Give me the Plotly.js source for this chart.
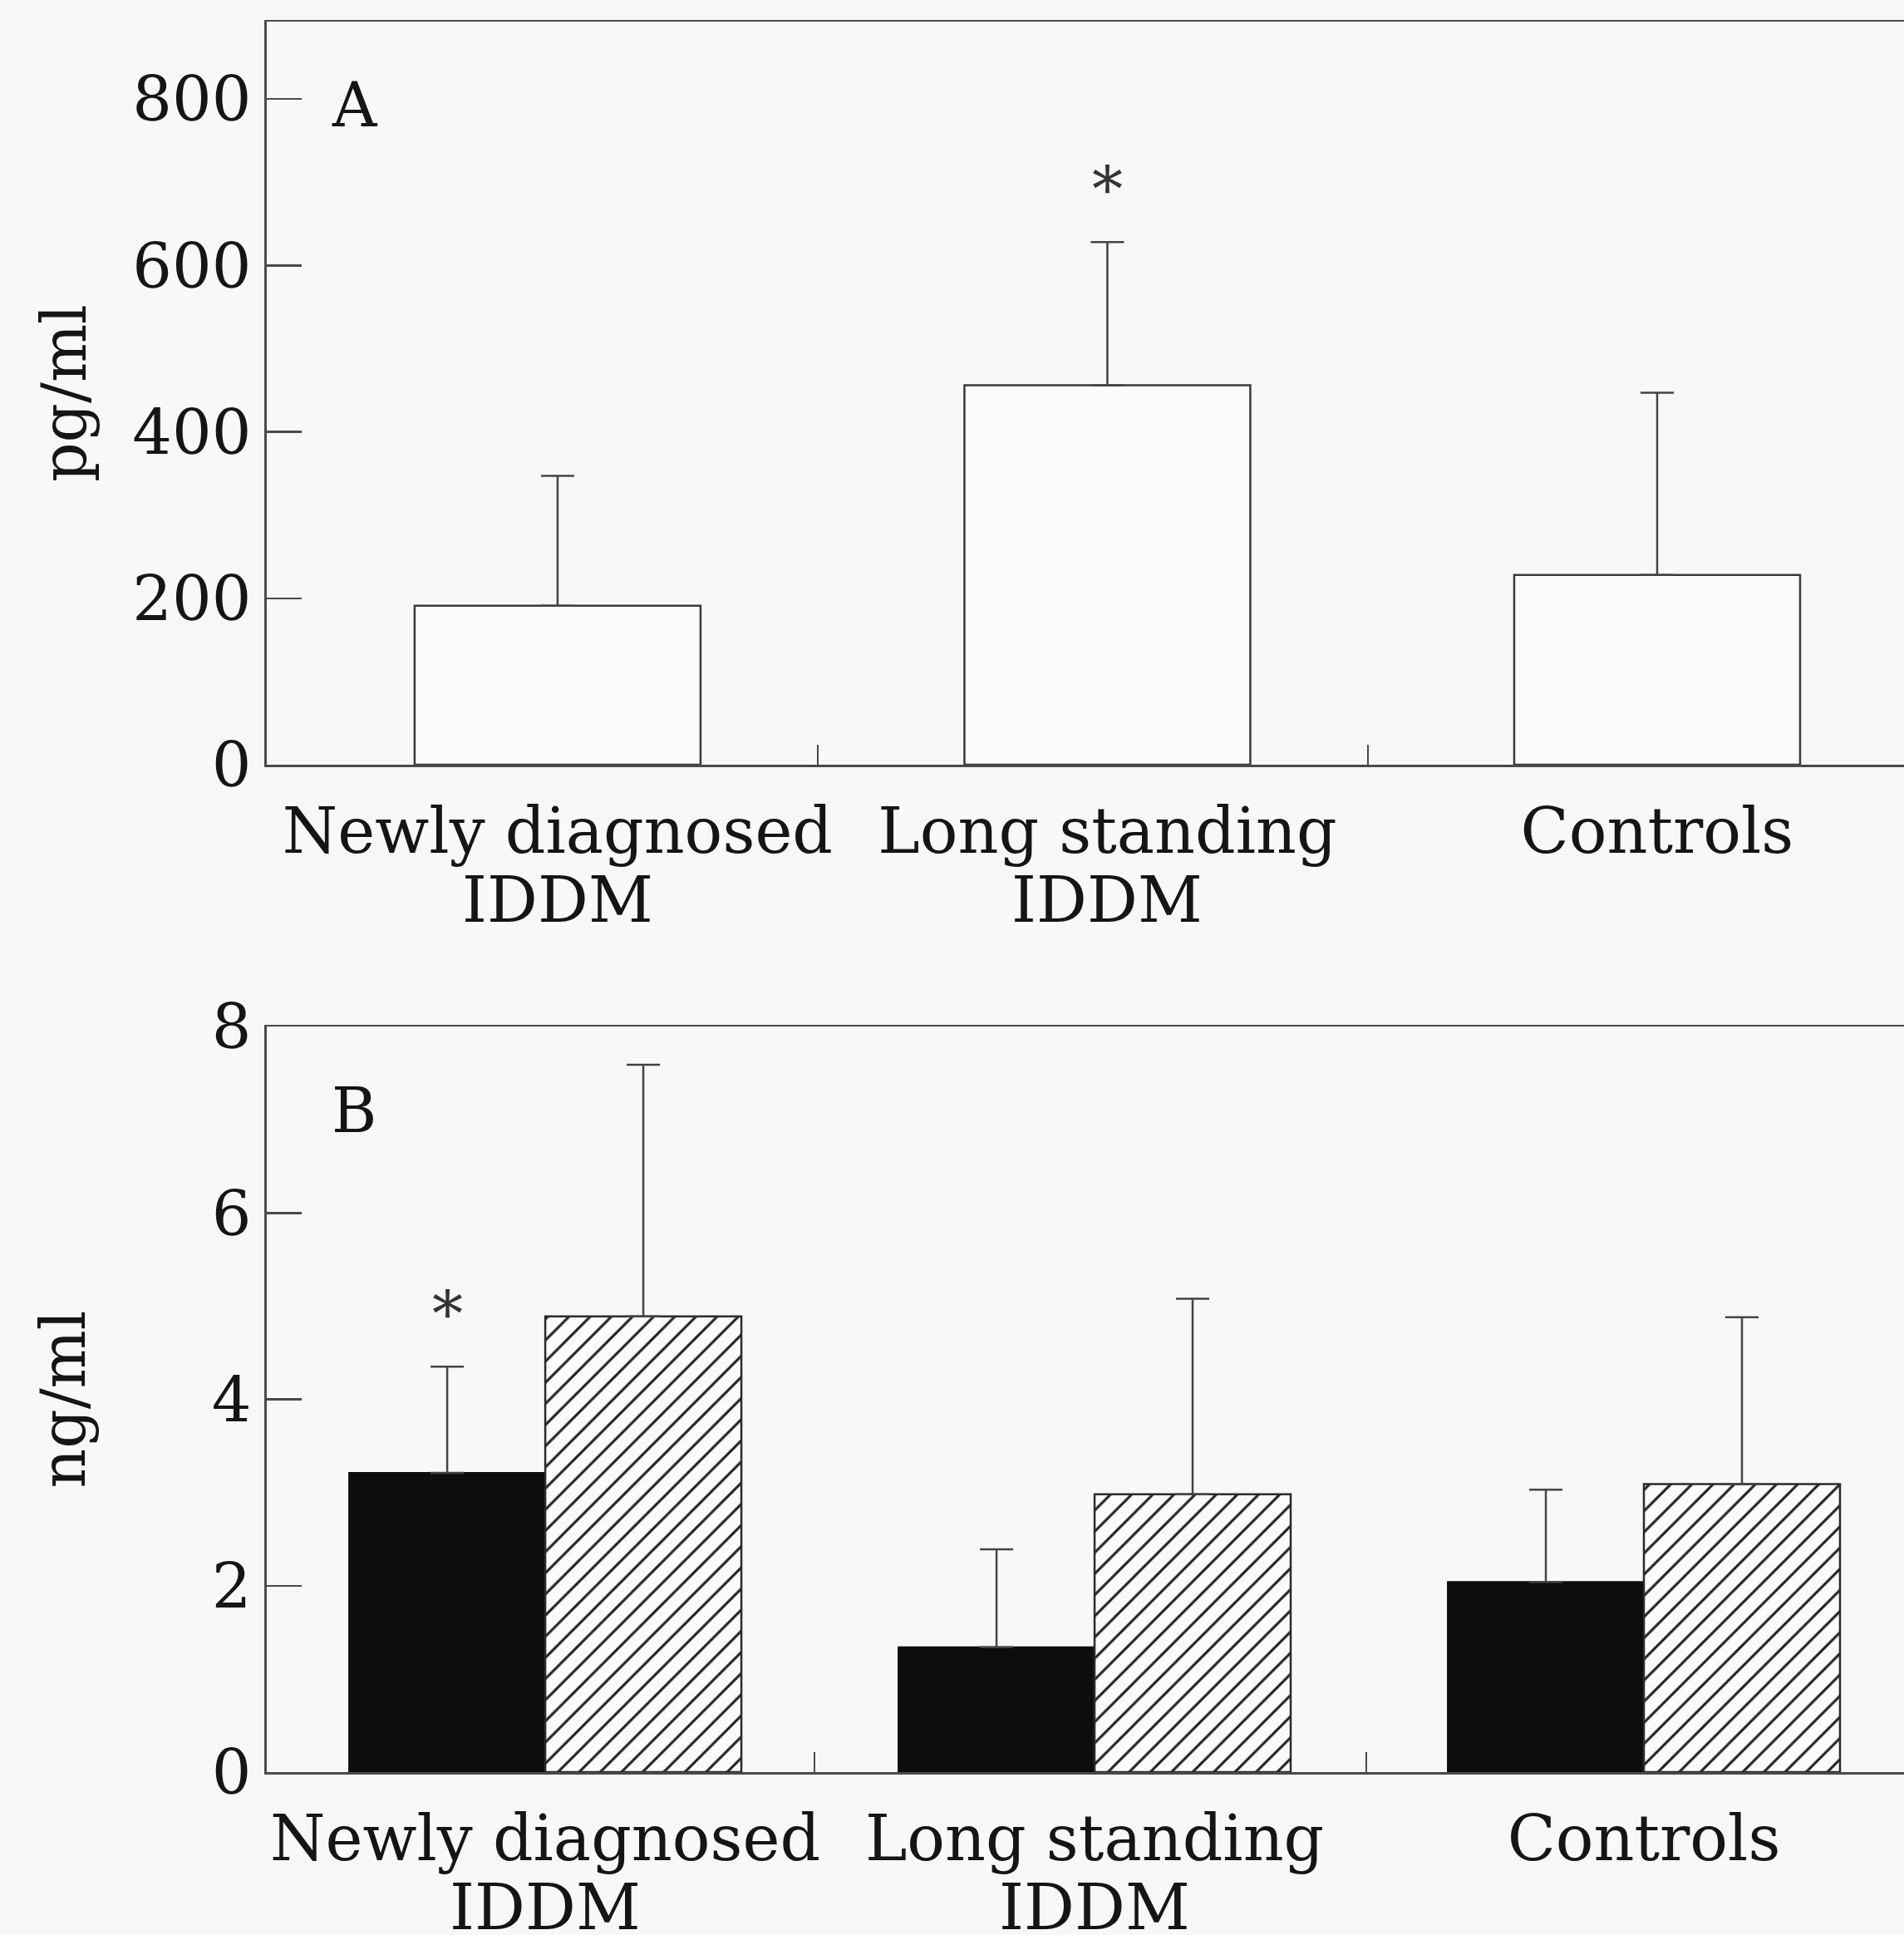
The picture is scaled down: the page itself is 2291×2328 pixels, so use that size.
<!DOCTYPE html>
<html>
<head>
<meta charset="utf-8">
<script src="https://cdn.plot.ly/plotly-3.0.1.min.js"></script>
<style>html,body{margin:0;padding:0;background:#f8f8f8;}</style>
</head>
<body>
<div id="chart" style="width:2291px;height:2328px;"></div>
<script>
// ---- data ----
const categoryLine1 = ['Newly diagnosed', 'Long standing', 'Controls'];
const categoryLine2 = ['IDDM', 'IDDM', ''];
// Panel A (pg/ml): mean and upper SD
const pgMean = [191, 456, 228];
const pgSD = [156, 172, 219];
const pgSignificant = [false, true, false];
// Panel B (ng/ml): black bars and hatched bars
const ngBlackMean = [3.21, 1.34, 2.04];
const ngBlackSD = [1.14, 1.05, 0.99];
const ngBlackSignificant = [true, false, false];
const ngHatchMean = [4.89, 2.98, 3.09];
const ngHatchSD = [2.70, 2.10, 1.79];
const yTicksA = [0, 200, 400, 600, 800];
const yTicksB = [0, 2, 4, 6, 8];

// ---- styles ----
const FONT = 'DejaVu Serif, Liberation Serif, serif';
const BG = '#f8f8f8';
const LINE = '#4a4a4a';
const TXT = '#151515';
const idx = categoryLine1.map((_, i) => i);
const zeros = n => new Array(n).fill(0);
const wA = 0.52, wB = 0.357;

const errStyle = {type: 'data', symmetric: false, color: '#444', thickness: 2.5, width: 20};

const traces = [
  {
    type: 'bar', x: idx, y: pgMean, xaxis: 'x', yaxis: 'y',
    width: wA, offset: -wA / 2,
    marker: {color: '#fbfbfb', line: {color: '#3a3a3a', width: 2.5}},
    error_y: Object.assign({}, errStyle, {array: pgSD, arrayminus: zeros(pgSD.length)}),
    hoverinfo: 'skip'
  },
  {
    type: 'bar', x: idx, y: ngBlackMean, xaxis: 'x2', yaxis: 'y2',
    width: wB, offset: -wB,
    marker: {color: '#0d0d0d', line: {color: '#0d0d0d', width: 2}},
    error_y: Object.assign({}, errStyle, {array: ngBlackSD, arrayminus: zeros(ngBlackSD.length)}),
    hoverinfo: 'skip'
  },
  {
    type: 'bar', x: idx, y: ngHatchMean, xaxis: 'x2', yaxis: 'y2',
    width: wB, offset: 0,
    marker: {
      color: BG,
      pattern: {shape: '/', fgcolor: '#222', bgcolor: '#fbfbfb', size: 18, solidity: 0.17},
      line: {color: '#2a2a2a', width: 2.5}
    },
    error_y: Object.assign({}, errStyle, {array: ngHatchSD, arrayminus: zeros(ngHatchSD.length)}),
    hoverinfo: 'skip'
  }
];

const xCommon = {
  domain: [0.1401, 1],
  tickmode: 'array', tickvals: idx, ticktext: categoryLine1,
  ticks: '', showline: true, linecolor: LINE, linewidth: 2.5, mirror: true,
  showgrid: false, zeroline: false, automargin: false,
  tickfont: {family: FONT, size: 76, color: TXT},
  ticklabelstandoff: 12
};
const yCommon = {
  tickmode: 'array', ticks: 'inside', ticklen: 42, tickwidth: 2.5, tickcolor: LINE,
  showline: true, linecolor: LINE, linewidth: 2.5, mirror: false,
  showgrid: false, zeroline: false, automargin: false,
  tickfont: {family: FONT, size: 75, color: TXT},
  ticklabelstandoff: 1
};
const minorX = b => ({tickmode: 'array', tickvals: b, ticks: 'inside', ticklen: 24, tickwidth: 2.5, tickcolor: LINE, showgrid: false});

const annotations = [];
annotations.push({xref: 'x domain', yref: 'y domain', x: 0.0386, y: 0.8876, xanchor: 'left', yanchor: 'middle',
  text: 'A', showarrow: false, font: {family: FONT, size: 74, color: TXT}});
annotations.push({xref: 'x2 domain', yref: 'y2 domain', x: 0.0386, y: 0.8874, xanchor: 'left', yanchor: 'middle',
  text: 'B', showarrow: false, font: {family: FONT, size: 74, color: TXT}});
// second line of the category labels
[['x', 'y domain'], ['x2', 'y2 domain']].forEach(([xr, yr]) => {
  categoryLine2.forEach((t, i) => {
    if (t) annotations.push({xref: xr, yref: yr, x: idx[i], y: 0, yanchor: 'middle', yshift: -162,
      text: t, showarrow: false, font: {family: FONT, size: 76, color: TXT}});
  });
});
pgSignificant.forEach((s, i) => {
  if (s) annotations.push({xref: 'x', yref: 'y', x: idx[i], y: pgMean[i] + pgSD[i], yanchor: 'bottom', yshift: 18,
    text: '*', showarrow: false, font: {family: FONT, size: 74, color: '#333'}});
});
ngBlackSignificant.forEach((s, i) => {
  if (s) annotations.push({xref: 'x2', yref: 'y2', x: idx[i] - wB / 2, y: ngBlackMean[i] + ngBlackSD[i], yanchor: 'bottom', yshift: 18,
    text: '*', showarrow: false, font: {family: FONT, size: 74, color: '#333'}});
});

const layout = {
  width: 2291, height: 2328,
  margin: {l: 0, r: 0, t: 0, b: 0},
  paper_bgcolor: BG, plot_bgcolor: BG,
  showlegend: false, barmode: 'overlay',
  xaxis: Object.assign({}, xCommon, {anchor: 'y', range: [-0.529, 2.449], minor: minorX([0.473, 1.474])}),
  yaxis: Object.assign({}, yCommon, {anchor: 'x', domain: [0.60481, 0.98883], range: [0, 893], tickvals: yTicksA,
    title: {text: 'pg/ml', font: {family: FONT, size: 74, color: TXT}, standoff: 32}}),
  xaxis2: Object.assign({}, xCommon, {anchor: 'y2', range: [-0.507, 2.4735], minor: minorX([0.49, 1.495])}),
  yaxis2: Object.assign({}, yCommon, {anchor: 'x2', domain: [0.08419, 0.4695], range: [0, 8], tickvals: yTicksB,
    title: {text: 'ng/ml', font: {family: FONT, size: 74, color: TXT}, standoff: 128}}),
  annotations: annotations
};

Plotly.newPlot('chart', traces, layout, {staticPlot: true, displayModeBar: false});
</script>
</body>
</html>
